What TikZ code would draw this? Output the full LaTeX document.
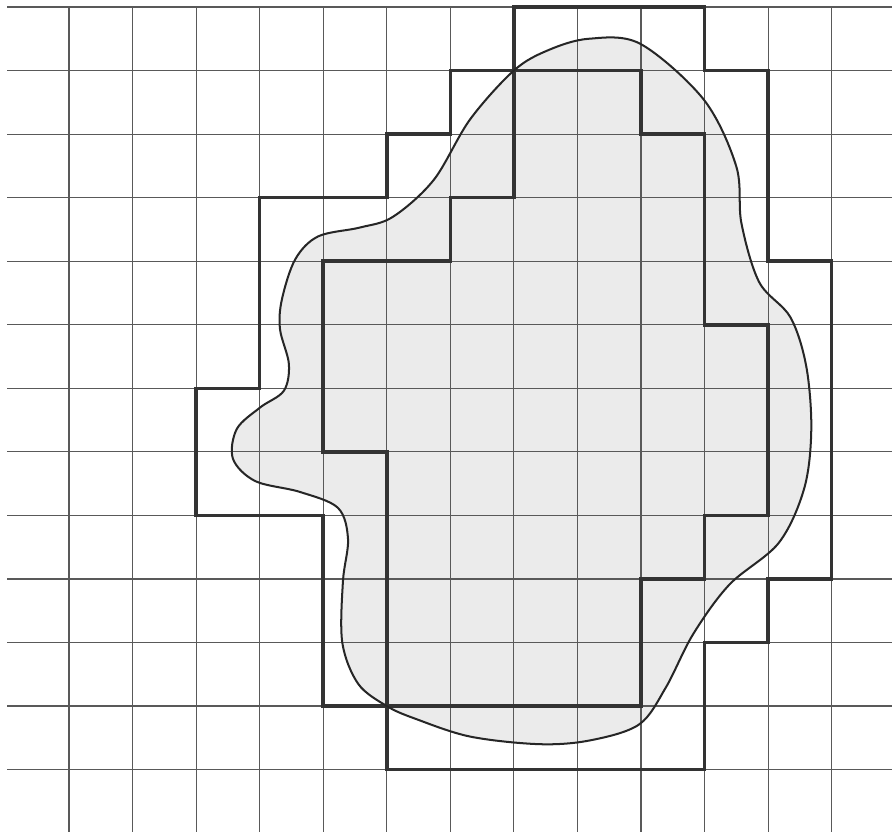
\documentclass[tikz,border=0pt]{standalone}
\begin{document}
\begin{tikzpicture}[x=1cm,y=1cm,
  gridline/.style={draw=black!65,line width=0.5pt},
  approx/.style={draw=black!80,line width=1.6pt,line join=miter},
  blobline/.style={draw=black!85,line width=0.9pt}]
\useasboundingbox (-1.086,0.11) rectangle (12.95,-12.98);
\fill[white] (-1.086,0.11) rectangle (12.95,-12.98);
% blob fill
\def\blobpath{plot[smooth cycle,tension=0.55] coordinates {
 (8.18,-0.50) (8.99,-0.58) (9.99,-1.46) (10.50,-2.51) (10.58,-3.40)
 (10.86,-4.33) (11.35,-4.88) (11.60,-5.65) (11.68,-6.64) (11.57,-7.57)
 (11.17,-8.43) (10.39,-9.09) (9.82,-9.87) (9.39,-10.71) (8.97,-11.29)
 (8.20,-11.54) (7.40,-11.60) (6.31,-11.48) (5.45,-11.20) (5.0,-11.0)
 (4.55,-10.65) (4.30,-10.00) (4.31,-9.04) (4.39,-8.37) (4.23,-7.88)
 (3.63,-7.63) (2.93,-7.46) (2.58,-7.11) (2.64,-6.64) (3.01,-6.30)
 (3.38,-6.04) (3.46,-5.62) (3.32,-5.07) (3.35,-4.60) (3.56,-3.97)
 (3.92,-3.61) (4.58,-3.47) (5.10,-3.30) (5.74,-2.72) (6.31,-1.77)
 (7.0,-1.0) (7.54,-0.68)}}
\fill[black!8] \blobpath;
% grid
\foreach \k in {0,...,12} \draw[gridline] (\k,0) -- (\k,-12.98);
\foreach \j in {0,...,12} \draw[gridline] (-0.97,-\j) -- (12.95,-\j);
% outer approximation
\draw[approx] (7,0) -- (10,0) -- (10,-1) -- (11,-1) -- (11,-4) -- (12,-4)
 -- (12,-9) -- (11,-9) -- (11,-10) -- (10,-10) -- (10,-12) -- (5,-12)
 -- (5,-11) -- (4,-11) -- (4,-8) -- (2,-8) -- (2,-6) -- (3,-6) -- (3,-3)
 -- (5,-3) -- (5,-2) -- (6,-2) -- (6,-1) -- (7,-1) -- cycle;
% inner approximation
\draw[approx] (7,-1) -- (9,-1) -- (9,-2) -- (10,-2) -- (10,-5) -- (11,-5)
 -- (11,-8) -- (10,-8) -- (10,-9) -- (9,-9) -- (9,-11) -- (5,-11) -- (5,-7)
 -- (4,-7) -- (4,-4) -- (6,-4) -- (6,-3) -- (7,-3) -- cycle;
% blob outline
\draw[blobline] \blobpath;
\end{tikzpicture}
\end{document}
